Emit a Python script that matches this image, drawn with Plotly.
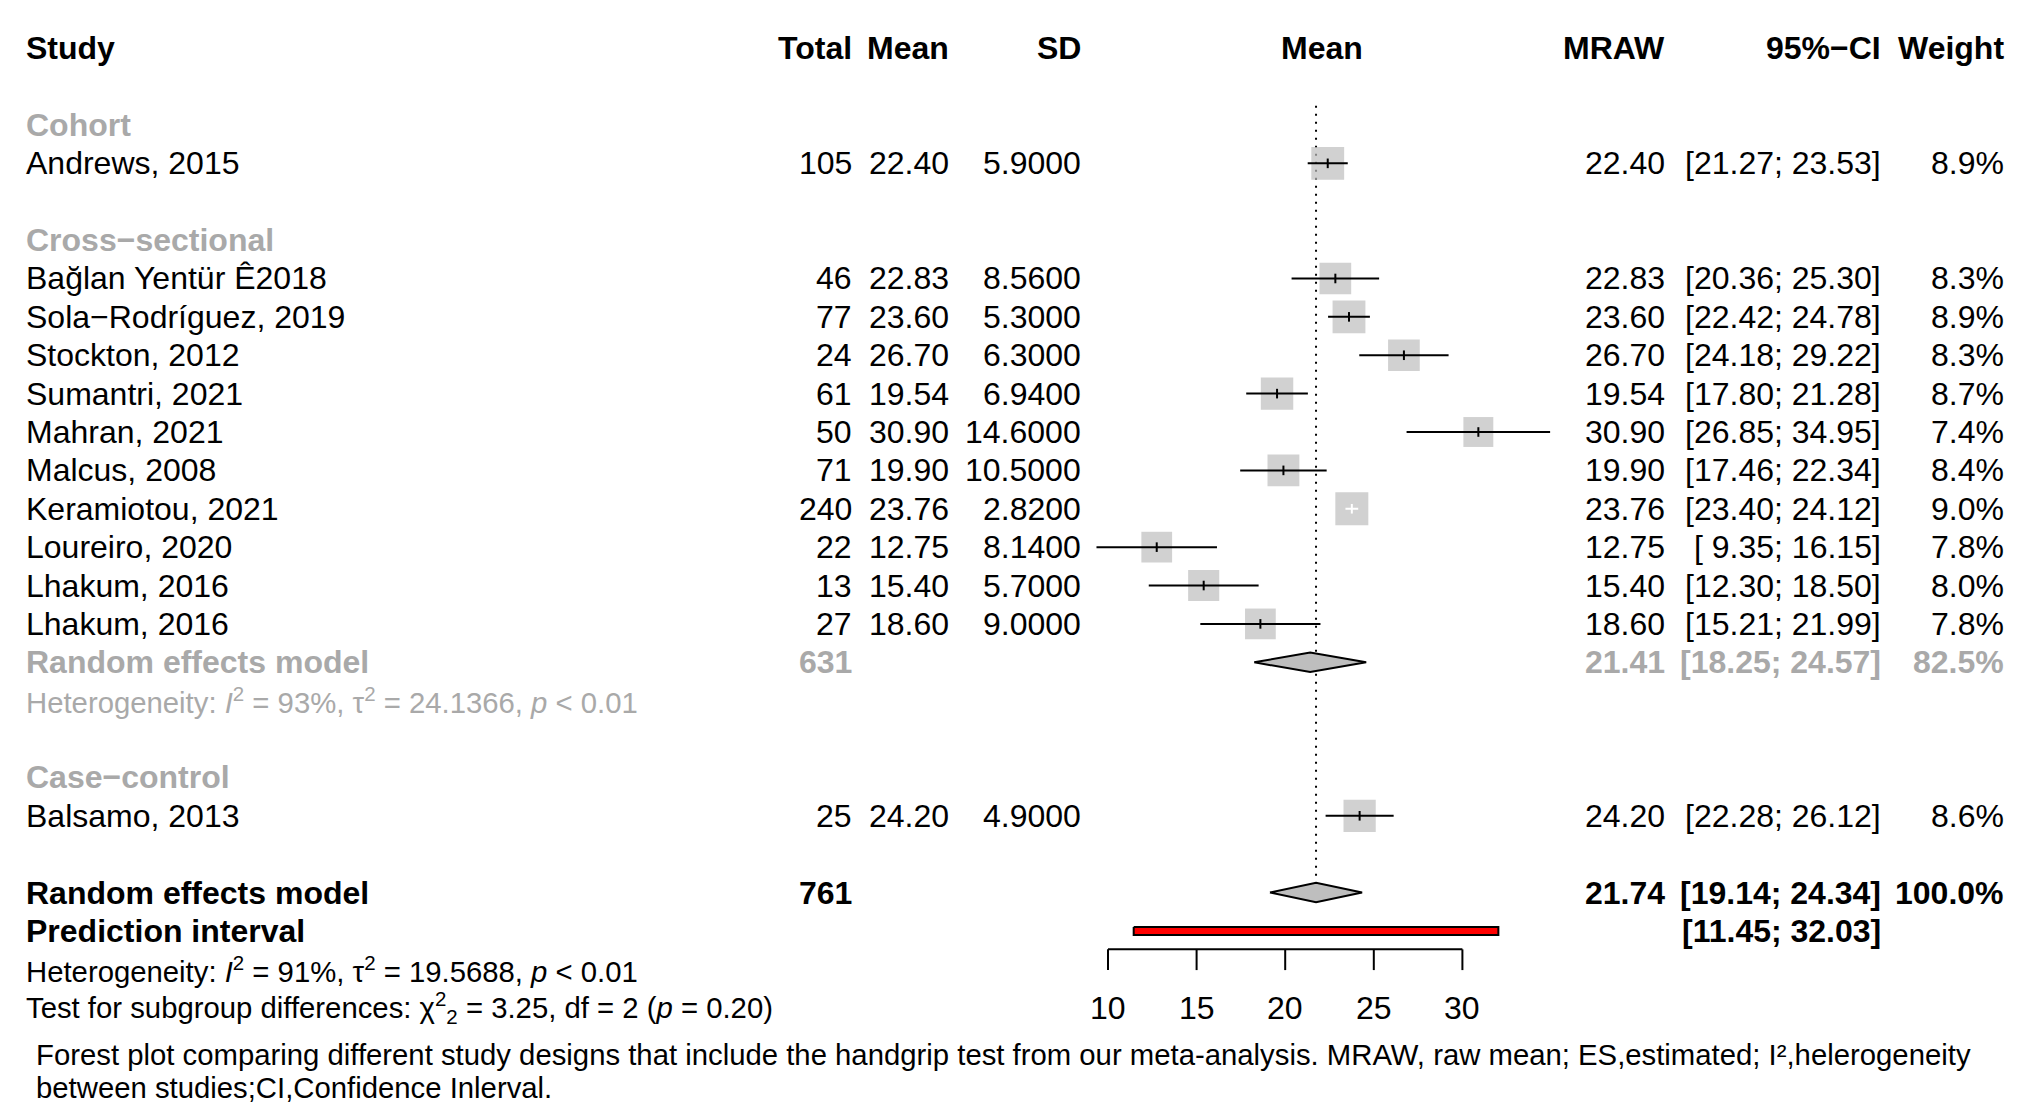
import plotly.graph_objects as go

# ---------------- data ----------------
studies = ["Andrews, 2015", "Bağlan Yentür Ê2018", "Sola−Rodríguez, 2019", "Stockton, 2012",
           "Sumantri, 2021", "Mahran, 2021", "Malcus, 2008", "Keramiotou, 2021",
           "Loureiro, 2020", "Lhakum, 2016", "Lhakum, 2016", "Balsamo, 2013"]
design = ["Cohort"] + ["Cross−sectional"] * 10 + ["Case−control"]
groups = ["Cohort", "Cross−sectional", "Case−control"]
total = [105, 46, 77, 24, 61, 50, 71, 240, 22, 13, 27, 25]
mean = [22.40, 22.83, 23.60, 26.70, 19.54, 30.90, 19.90, 23.76, 12.75, 15.40, 18.60, 24.20]
sd = [5.90, 8.56, 5.30, 6.30, 6.94, 14.60, 10.50, 2.82, 8.14, 5.70, 9.00, 4.90]
ci_lo = [21.27, 20.36, 22.42, 24.18, 17.80, 26.85, 17.46, 23.40, 9.35, 12.30, 15.21, 22.28]
ci_hi = [23.53, 25.30, 24.78, 29.22, 21.28, 34.95, 22.34, 24.12, 16.15, 18.50, 21.99, 26.12]
weight = [8.9, 8.3, 8.9, 8.3, 8.7, 7.4, 8.4, 9.0, 7.8, 8.0, 7.8, 8.6]

# subgroup random effects (cross-sectional)
sub_n, sub_est, sub_lo, sub_hi, sub_w = 631, 21.41, 18.25, 24.57, 82.5
sub_i2, sub_tau2 = 93, 24.1366
# overall
all_n, all_est, all_lo, all_hi, all_w = 761, 21.74, 19.14, 24.34, 100.0
pred_lo, pred_hi = 11.45, 32.03
all_i2, all_tau2 = 91, 19.5688
q_sub, df_sub, p_sub = 3.25, 2, 0.20
ticks = [10, 15, 20, 25, 30]

# ---------------- layout constants ----------------
W, H = 2018, 1106
OFF = 8                      # page body margin
FW, FH = W - OFF, H - OFF
FONT = "Liberation Sans, Arial, Helvetica, sans-serif"
FS = 32
FS_SMALL = 29.3
BLACK = "#000000"
GREY = "#A9A9A9"
SQ = "#BEBEBE"
ROW0, ROWH = 48.2, 38.38          # pixel y (page) of row 0 and row height
X10, PXU = 1108.0, 17.72           # pixel x (page) of value 10 and px per unit

x_lo_range = 10 + (OFF - X10) / PXU
x_hi_range = 10 + (W - X10) / PXU
y_top = (OFF - ROW0) / ROWH
y_bot = (H - ROW0) / ROWH

COL_STUDY = 26
COL_TOTAL = 852
COL_MEAN = 949
COL_SD = 1081
COL_PLOT = 1322
COL_MRAW = 1665
COL_CI = 1881
COL_W = 2004


def px2paper(px):
    return (px - OFF) / FW


def py2paper(py):
    return 1 - (py - OFF) / FH


anns = []


def ann(text, xpx, row, anchor, color=BLACK, bold=False, size=FS):
    if bold:
        text = "<b>" + text + "</b>"
    anns.append(dict(x=px2paper(xpx), xref="paper", y=row, yref="y", text=text,
                     xanchor=anchor, yanchor="middle", showarrow=False,
                     borderpad=0, borderwidth=0,
                     font=dict(family=FONT, size=size, color=color)))


def fmt_ci(lo, hi):
    return "[%5.2f; %5.2f]" % (lo, hi)


# header
ann("Study", COL_STUDY, 0, "left", bold=True)
ann("Total", COL_TOTAL, 0, "right", bold=True)
ann("Mean", COL_MEAN, 0, "right", bold=True)
ann("SD", COL_SD, 0, "right", bold=True)
ann("Mean", COL_PLOT, 0, "center", bold=True)
ann("MRAW", COL_MRAW, 0, "right", bold=True)
ann("95%−CI", COL_CI, 0, "right", bold=True)
ann("Weight", COL_W, 0, "right", bold=True)

# row assignment
row = 2
study_rows = []
group_rows = {}
sub_row = het_row = None
for g in groups:
    group_rows[g] = row
    row += 1
    idx = [i for i, d in enumerate(design) if d == g]
    for i in idx:
        study_rows.append(row)
        row += 1
    if len(idx) > 1:
        sub_row = row
        het_row = row + 1
        row += 2
    row += 1
overall_row = row
pred_row = row + 1
het_all_row = row + 2
test_row = row + 3

for g, r in group_rows.items():
    ann(g, COL_STUDY, r, "left", color=GREY, bold=True)

for i, r in enumerate(study_rows):
    ann(studies[i], COL_STUDY, r, "left")
    ann(str(total[i]), COL_TOTAL, r, "right")
    ann("%.2f" % mean[i], COL_MEAN, r, "right")
    ann("%.4f" % sd[i], COL_SD, r, "right")
    ann("%.2f" % mean[i], COL_MRAW, r, "right")
    ann(fmt_ci(ci_lo[i], ci_hi[i]), COL_CI, r, "right")
    ann("%.1f%%" % weight[i], COL_W, r, "right")

# subgroup summary
ann("Random effects model", COL_STUDY, sub_row, "left", color=GREY, bold=True)
ann(str(sub_n), COL_TOTAL, sub_row, "right", color=GREY, bold=True)
ann("%.2f" % sub_est, COL_MRAW, sub_row, "right", color=GREY, bold=True)
ann(fmt_ci(sub_lo, sub_hi), COL_CI, sub_row, "right", color=GREY, bold=True)
ann("%.1f%%" % sub_w, COL_W, sub_row, "right", color=GREY, bold=True)
ann("Heterogeneity: <i>I</i><sup>2</sup> = %d%%, τ<sup>2</sup> = %.4f, <i>p</i> &lt; 0.01" % (sub_i2, sub_tau2),
    COL_STUDY, het_row, "left", color=GREY, size=FS_SMALL)

# overall
ann("Random effects model", COL_STUDY, overall_row, "left", bold=True)
ann(str(all_n), COL_TOTAL, overall_row, "right", bold=True)
ann("%.2f" % all_est, COL_MRAW, overall_row, "right", bold=True)
ann(fmt_ci(all_lo, all_hi), COL_CI, overall_row, "right", bold=True)
ann("%.1f%%" % all_w, COL_W, overall_row, "right", bold=True)
ann("Prediction interval", COL_STUDY, pred_row, "left", bold=True)
ann(fmt_ci(pred_lo, pred_hi), COL_CI, pred_row, "right", bold=True)
ann("Heterogeneity: <i>I</i><sup>2</sup> = %d%%, τ<sup>2</sup> = %.4f, <i>p</i> &lt; 0.01" % (all_i2, all_tau2),
    COL_STUDY, het_all_row, "left", size=FS_SMALL)
ann("Test for subgroup differences: χ<sup>2</sup><sub>%d</sub> = %.2f, df = %d (<i>p</i> = %.2f)"
    % (df_sub, q_sub, df_sub, p_sub), COL_STUDY, test_row, "left", size=FS_SMALL)

# axis tick labels
for t in ticks:
    anns.append(dict(x=t, xref="x", y=test_row, yref="y", text=str(t), xanchor="center",
                     yanchor="middle", showarrow=False, borderpad=0, borderwidth=0,
                     font=dict(family=FONT, size=FS, color=BLACK)))

# caption
CAP_FS = 29.3
cap1 = ("Forest plot comparing different study designs that include the handgrip test from our "
        "meta-analysis. MRAW, raw mean; ES,estimated; I²,helerogeneity")
cap2 = "between studies;CI,Confidence Inlerval."
for txt, py in [(cap1, 1054), (cap2, 1087)]:
    anns.append(dict(x=px2paper(36), xref="paper", y=py2paper(py), yref="paper", text=txt,
                     xanchor="left", yanchor="middle", showarrow=False, borderpad=0,
                     borderwidth=0, font=dict(family=FONT, size=CAP_FS, color=BLACK)))

fig = go.Figure()

# reference dotted line at overall estimate
fig.add_trace(go.Scatter(x=[all_est, all_est], y=[1.5, overall_row - 0.28], mode="lines",
                         line=dict(color=BLACK, width=2, dash="2px,6px"),
                         hoverinfo="skip", showlegend=False))

# squares
sizes = [33.0 * (w / 9.0) ** 0.5 for w in weight]
fig.add_trace(go.Scatter(x=mean, y=study_rows, mode="markers",
                         marker=dict(symbol="square", size=sizes, color=SQ, line=dict(width=0)),
                         hoverinfo="skip", showlegend=False))

# CI lines and centre ticks
TK = 0.125
for i, r in enumerate(study_rows):
    half_px = sizes[i] / 2 / PXU
    inside = (ci_lo[i] >= mean[i] - half_px) and (ci_hi[i] <= mean[i] + half_px)
    col = "#FFFFFF" if inside else BLACK
    fig.add_trace(go.Scatter(x=[ci_lo[i], ci_hi[i], None, mean[i], mean[i]],
                             y=[r, r, None, r - TK, r + TK], mode="lines",
                             line=dict(color=col, width=2), hoverinfo="skip", showlegend=False))

# diamonds
DH = 0.255
for est, lo, hi, r in [(sub_est, sub_lo, sub_hi, sub_row), (all_est, all_lo, all_hi, overall_row)]:
    fig.add_trace(go.Scatter(x=[lo, est, hi, est, lo], y=[r, r - DH, r, r + DH, r], mode="lines",
                             fill="toself", fillcolor=SQ, line=dict(color=BLACK, width=2),
                             hoverinfo="skip", showlegend=False))

# prediction interval
PH = 0.105
fig.add_trace(go.Scatter(x=[pred_lo, pred_hi, pred_hi, pred_lo, pred_lo],
                         y=[pred_row - PH, pred_row - PH, pred_row + PH, pred_row + PH, pred_row - PH],
                         mode="lines", fill="toself", fillcolor="#FF0000",
                         line=dict(color=BLACK, width=2), hoverinfo="skip", showlegend=False))

# x axis (drawn)
AX_Y = 23.48
TICK_END = 24.02
ax_x, ax_y = [ticks[0], ticks[-1]], [AX_Y, AX_Y]
for t in ticks:
    ax_x += [None, t, t]
    ax_y += [None, AX_Y, TICK_END]
fig.add_trace(go.Scatter(x=ax_x, y=ax_y, mode="lines", line=dict(color=BLACK, width=2),
                         hoverinfo="skip", showlegend=False))

fig.update_layout(
    width=FW, height=FH, margin=dict(l=0, r=0, t=0, b=0, pad=0),
    paper_bgcolor="white", plot_bgcolor="white",
    xaxis=dict(range=[x_lo_range, x_hi_range], visible=False, domain=[0, 1], fixedrange=True),
    yaxis=dict(range=[y_bot, y_top], visible=False, domain=[0, 1], fixedrange=True),
    annotations=anns, showlegend=False,
)

fig.write_html("out.html")
